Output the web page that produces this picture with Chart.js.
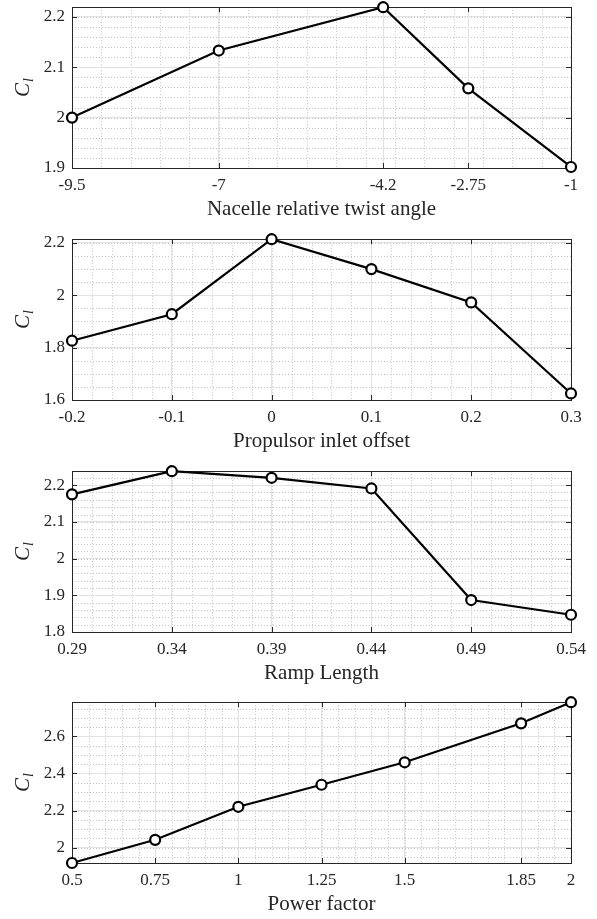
<!DOCTYPE html>
<html>
<head>
<meta charset="utf-8">
<script src="https://cdn.jsdelivr.net/npm/chart.js@4.4.0/dist/chart.umd.min.js"></script>
<style>
  body { margin: 0; background: #fff; }
  canvas { position: absolute; left: 0; }
</style>
</head>
<body>
<canvas id="twistChart" width="597" height="224" style="top:0px"></canvas>
<canvas id="inletChart" width="597" height="224" style="top:232px"></canvas>
<canvas id="rampChart" width="597" height="224" style="top:464px"></canvas>
<canvas id="powerChart" width="597" height="224" style="top:695px"></canvas>
<script>
// data
const twistAngle = [-9.5, -7, -4.2, -2.75, -1];
const clTwist = [2.000, 2.133, 2.219, 2.058, 1.902];
const yTicksTwist = [1.9, 2, 2.1, 2.2];

const inletOffset = [-0.2, -0.1, 0, 0.1, 0.2, 0.3];
const clInlet = [1.826, 1.927, 2.213, 2.099, 1.972, 1.625];
const yTicksInlet = [1.6, 1.8, 2, 2.2];

const rampLength = [0.29, 0.34, 0.39, 0.44, 0.49, 0.54];
const clRamp = [2.175, 2.238, 2.220, 2.191, 1.887, 1.847];
const yTicksRamp = [1.8, 1.9, 2, 2.1, 2.2];

const powerFactor = [0.5, 0.75, 1, 1.25, 1.5, 1.85, 2];
const clPower = [1.917, 2.042, 2.220, 2.339, 2.460, 2.670, 2.784];
const yTicksPower = [2, 2.2, 2.4, 2.6];

const AXIS_COLOR = '#262626';
const FONT = "'Liberation Serif', 'Times New Roman', serif";

function minorValues(min, max, step) {
    const out = [];
    const k0 = Math.ceil(min / step - 1e-6), k1 = Math.floor(max / step + 1e-6);
    for (let k = k0; k <= k1; k++) out.push(k * step);
    return out;
}

// minor dotted grid, box with inward ticks, and the C_l label (MATLAB look)
const axesDecor = {
    id: 'axesDecor',
    beforeDraw(chart, args, opts) {
        const {ctx, chartArea: a, scales: {x, y}} = chart;
        ctx.save();
        ctx.strokeStyle = '#c4c4c4';
        ctx.lineWidth = 1;
        ctx.setLineDash([1, 2]);
        ctx.beginPath();
        minorValues(x.min, x.max, opts.xMinor).forEach(v => {
            const px = Math.round(x.getPixelForValue(v)) + 0.5;
            ctx.moveTo(px, a.top); ctx.lineTo(px, a.bottom);
        });
        minorValues(y.min, y.max, opts.yMinor).forEach(v => {
            const py = Math.round(y.getPixelForValue(v)) + 0.5;
            ctx.moveTo(a.left, py); ctx.lineTo(a.right, py);
        });
        ctx.stroke();
        ctx.restore();
    },
    beforeDatasetsDraw(chart, args, opts) {
        const {ctx, chartArea: a, scales: {x, y}} = chart;
        const tl = 5;
        ctx.save();
        ctx.strokeStyle = AXIS_COLOR;
        ctx.lineWidth = 1;
        ctx.strokeRect(Math.round(a.left) + 0.5, Math.round(a.top) + 0.5,
            Math.round(a.right - a.left), Math.round(a.bottom - a.top));
        ctx.beginPath();
        x.ticks.forEach(t => {
            const px = Math.round(x.getPixelForValue(t.value)) + 0.5;
            ctx.moveTo(px, a.bottom); ctx.lineTo(px, a.bottom - tl);
            ctx.moveTo(px, a.top); ctx.lineTo(px, a.top + tl);
        });
        y.ticks.forEach(t => {
            const py = Math.round(y.getPixelForValue(t.value)) + 0.5;
            ctx.moveTo(a.left, py); ctx.lineTo(a.left + tl, py);
            ctx.moveTo(a.right, py); ctx.lineTo(a.right - tl, py);
        });
        ctx.stroke();

        // y label C_l, rotated
        const cy = (a.top + a.bottom) / 2;
        ctx.translate(29, cy);
        ctx.rotate(-Math.PI / 2);
        ctx.fillStyle = AXIS_COLOR;
        ctx.textBaseline = 'alphabetic';
        ctx.font = 'italic 21px ' + FONT;
        const wC = ctx.measureText('C').width;
        ctx.font = 'italic 14px ' + FONT;
        const wl = ctx.measureText('l').width;
        const x0 = -(wC + wl + 1) / 2;
        ctx.font = 'italic 21px ' + FONT;
        ctx.fillText('C', x0, 0);
        ctx.font = 'italic 14px ' + FONT;
        ctx.fillText('l', x0 + wC + 1, 4);
        ctx.restore();
    }
};

function makePanel(id, xVals, yVals, xTitle, yMin, yMax, yTicks, xMinor, yMinor) {
    new Chart(document.getElementById(id), {
        type: 'line',
        data: {
            datasets: [{
                data: xVals.map((v, i) => ({x: v, y: yVals[i]})),
                borderColor: '#000',
                borderWidth: 2.2,
                pointRadius: 5,
                pointBorderWidth: 2.2,
                pointBackgroundColor: '#fff',
                pointBorderColor: '#000',
                tension: 0,
                clip: false
            }]
        },
        options: {
            responsive: false,
            animation: false,
            layout: { padding: { top: 3, right: 26, left: 0, bottom: 0 } },
            plugins: {
                legend: { display: false },
                tooltip: { enabled: false },
                axesDecor: { xMinor: xMinor, yMinor: yMinor }
            },
            scales: {
                x: {
                    type: 'linear',
                    min: xVals[0],
                    max: xVals[xVals.length - 1],
                    afterBuildTicks: s => { s.ticks = xVals.map(v => ({value: v})); },
                    afterFit: s => { s.height = 56; s.paddingLeft = 0; s.paddingRight = 0; },
                    ticks: {
                        color: AXIS_COLOR,
                        font: { family: FONT, size: 17 },
                        padding: 7,
                        maxRotation: 0,
                        autoSkip: false,
                        callback: v => String(v)
                    },
                    grid: { color: '#e2e2e2', lineWidth: 1, drawTicks: false },
                    border: { display: false },
                    title: {
                        display: true,
                        text: xTitle,
                        color: AXIS_COLOR,
                        font: { family: FONT, size: 21 },
                        padding: { top: 0, bottom: 2 }
                    }
                },
                y: {
                    type: 'linear',
                    min: yMin,
                    max: yMax,
                    afterBuildTicks: s => { s.ticks = yTicks.map(v => ({value: v})); },
                    afterFit: s => { s.width = 72; s.paddingTop = 0; s.paddingBottom = 0; },
                    ticks: {
                        color: AXIS_COLOR,
                        font: { family: FONT, size: 17 },
                        padding: 7,
                        callback: v => String(+v.toFixed(2))
                    },
                    grid: { color: '#e2e2e2', lineWidth: 1, drawTicks: false },
                    border: { display: false }
                }
            }
        },
        plugins: [axesDecor]
    });
}

document.addEventListener('DOMContentLoaded', function() {
    makePanel('twistChart', twistAngle, clTwist, 'Nacelle relative twist angle', 1.9, 2.219, yTicksTwist, 0.5, 0.02);
    makePanel('inletChart', inletOffset, clInlet, 'Propulsor inlet offset', 1.6, 2.213, yTicksInlet, 0.02, 0.05);
    makePanel('rampChart', rampLength, clRamp, 'Ramp Length', 1.8, 2.238, yTicksRamp, 0.01, 0.02);
    makePanel('powerChart', powerFactor, clPower, 'Power factor', 1.917, 2.784, yTicksPower, 0.05, 0.05);
});
</script>
</body>
</html>
